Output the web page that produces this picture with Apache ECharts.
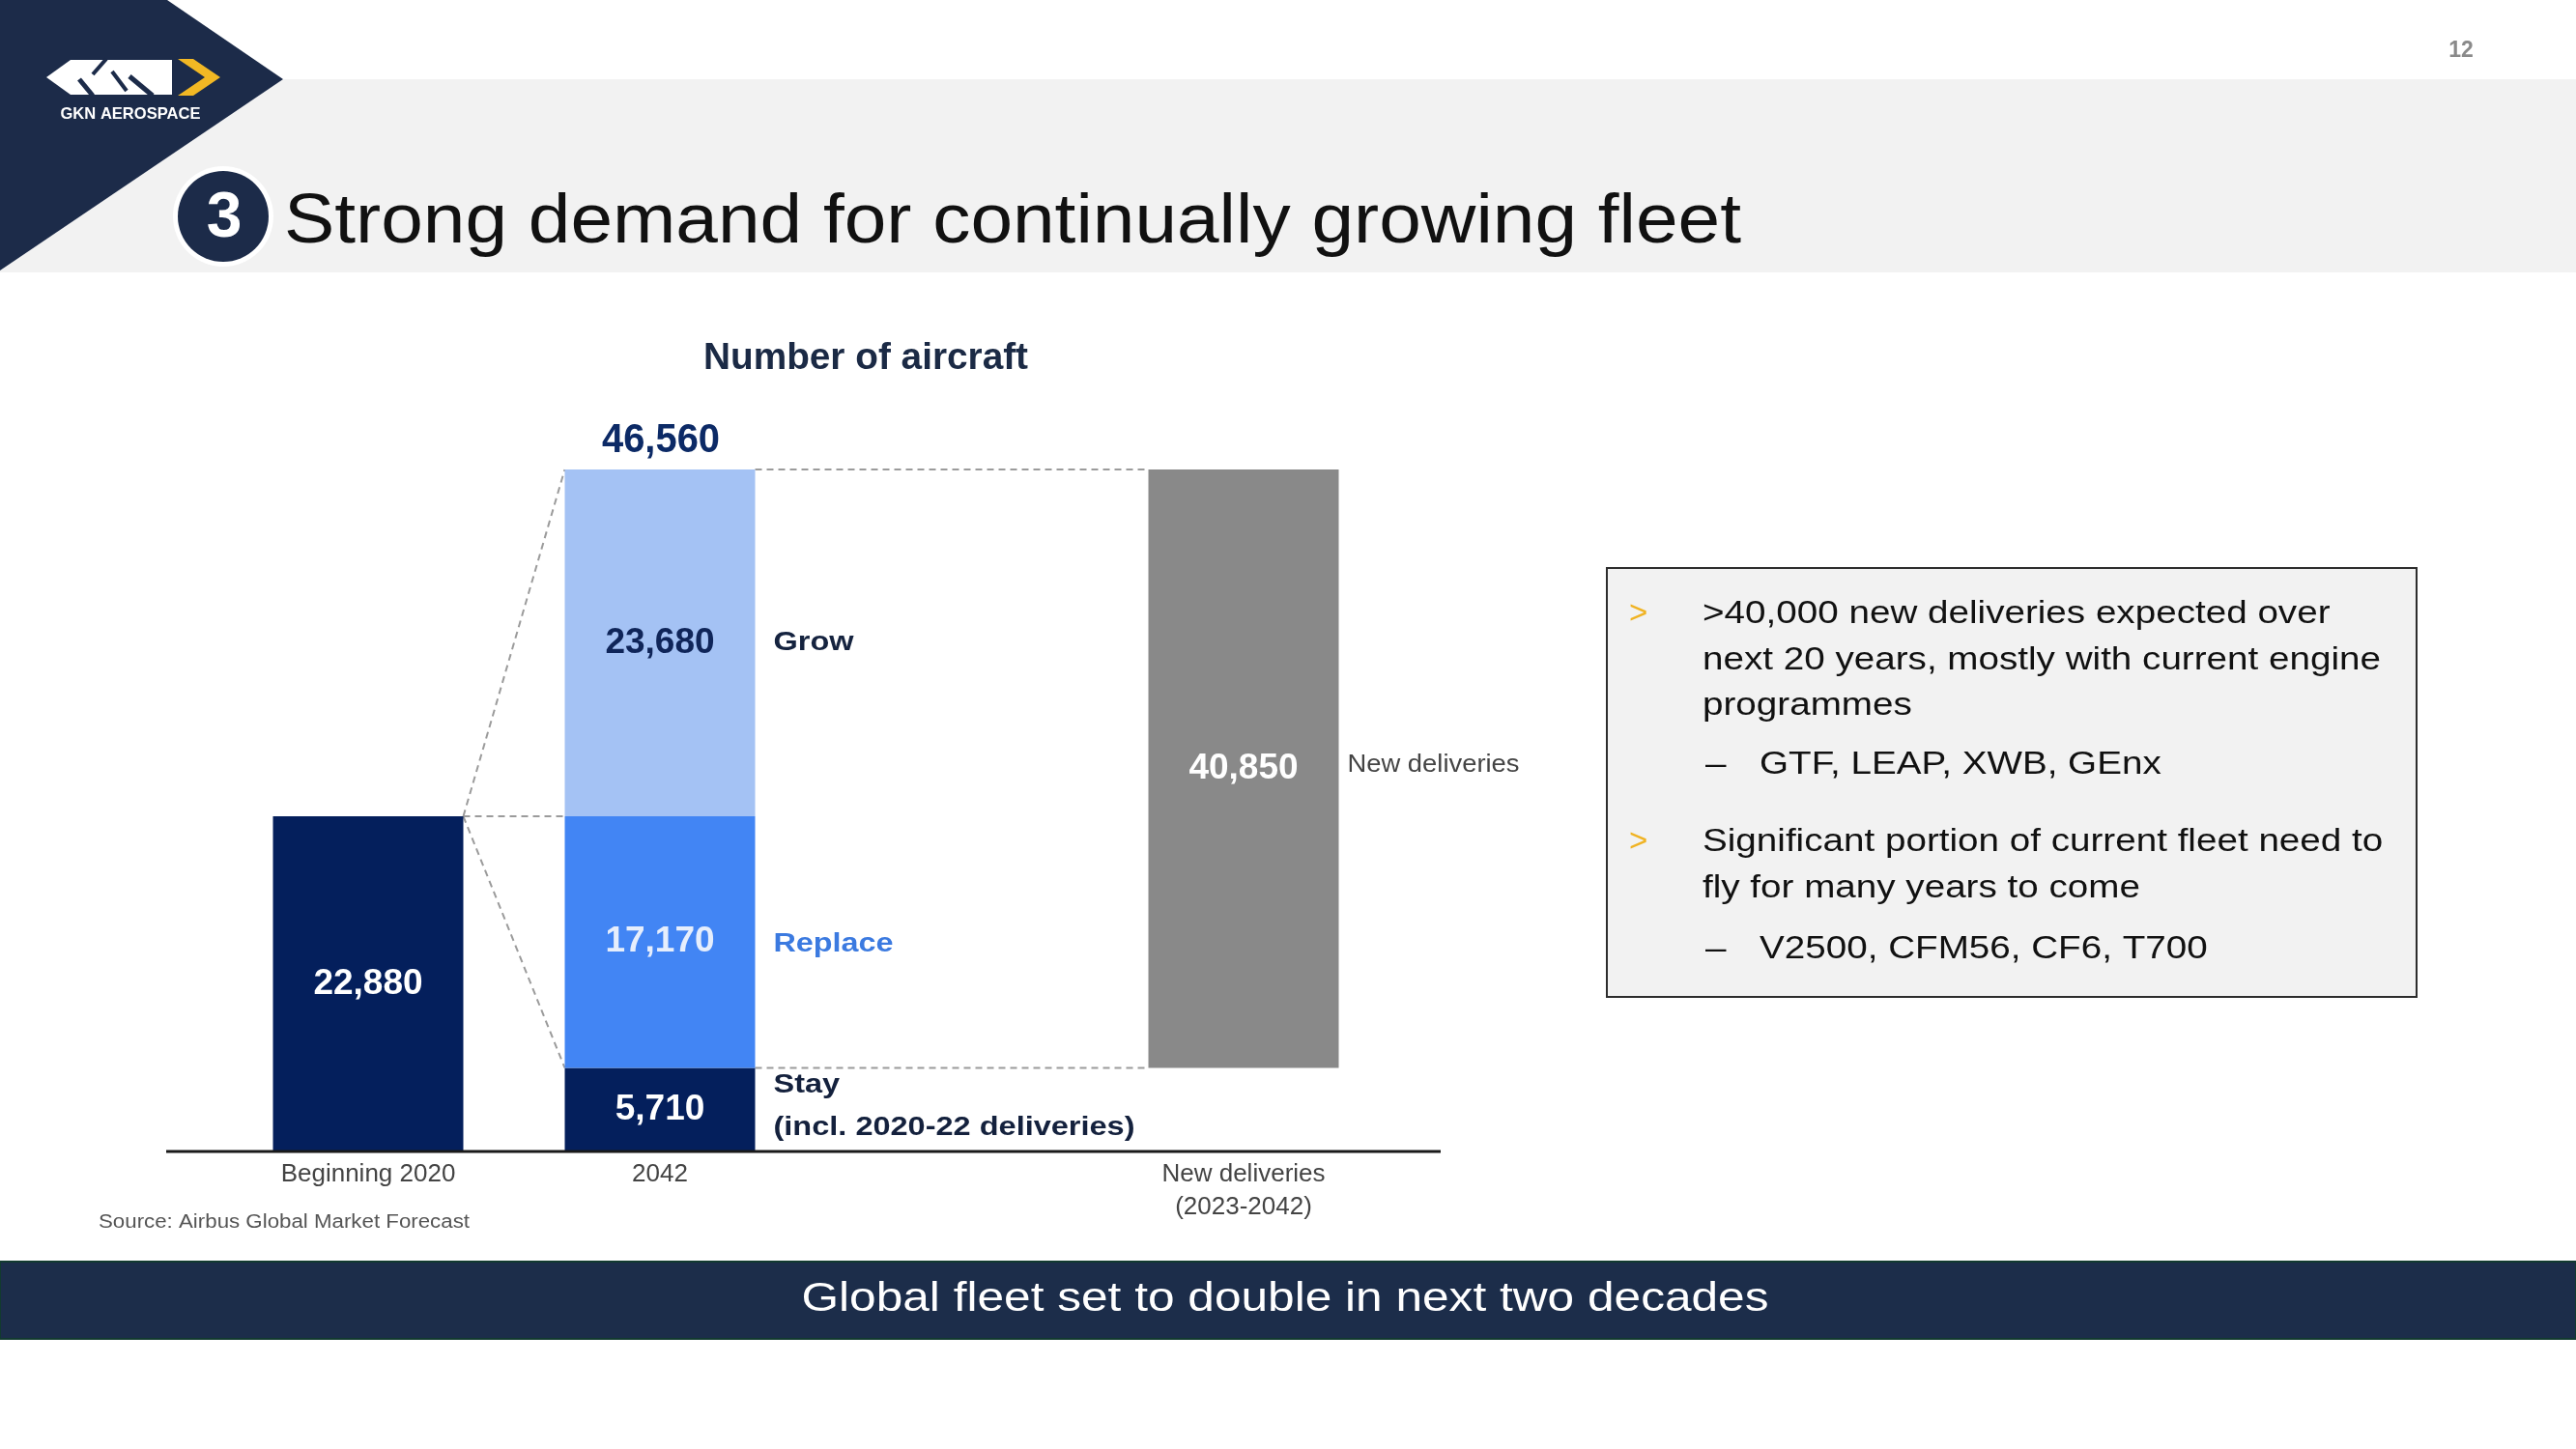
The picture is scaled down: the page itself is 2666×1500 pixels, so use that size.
<!DOCTYPE html>
<html>
<head>
<meta charset="utf-8">
<title>Strong demand for continually growing fleet</title>
<script src="https://cdn.jsdelivr.net/npm/echarts@6/dist/echarts.min.js"></script>
<style>
html, body { margin: 0; padding: 0; background: #fff; }
#main { width: 2666px; height: 1500px; }
</style>
</head>
<body>
<div id="main"></div>
<script>
// chart data
var categories = ['Beginning 2020', '2042', '', 'New deliveries\n(2023-2042)'];
var fleet2020 = [22880, '-', '-', '-'];
var stay = ['-', 5710, '-', '-'];
var replace = ['-', 17170, '-', '-'];
var grow = ['-', 23680, '-', '-'];
var newDeliveries = ['-', '-', '-', 40850];
var total2042 = stay[1] + replace[1] + grow[1];
var deliveriesBase = ['-', '-', '-', stay[1]];

var sideLabels = ['Grow', 'Replace', 'Stay\n(incl. 2020-22 deliveries)', 'New deliveries'];

var bulletPoints = [
  ['>40,000 new deliveries expected over', 'next 20 years, mostly with current engine', 'programmes'],
  ['Significant portion of current fleet need to', 'fly for many years to come']
];
var subPoints = ['GTF, LEAP, XWB, GEnx', 'V2500, CFM56, CF6, T700'];

var FONT = '"Liberation Sans", Arial, sans-serif';
var BAR_W = 197;
var NAVY = '#041f5c';

var ctx = document.createElement('canvas').getContext('2d');
function textWidth(text, font) {
  ctx.font = font;
  return Math.max.apply(null, text.split('\n').map(function (s) { return ctx.measureText(s).width; }));
}
function fit(text, font, target) {
  if (!target) return 1;
  return target / textWidth(text, font);
}
function fmt(v) { return Number(v).toLocaleString('en-US'); }

// free text for the slide
function txt(text, x, y, font, color, align, target, sx) {
  font = font + ' ' + FONT;
  return {
    type: 'text', x: x, y: y,
    scaleX: sx || fit(text, font, target),
    style: {
      text: text, font: font, fill: color,
      align: align, textAlign: align,
      verticalAlign: 'middle', textVerticalAlign: 'middle'
    }
  };
}

var connectors = [
  [0, fleet2020[0], 1, total2042],
  [0, fleet2020[0], 1, fleet2020[0]],
  [0, fleet2020[0], 1, stay[1]],
  [1, total2042, 3, total2042],
  [1, stay[1], 3, stay[1]]
];

var annotations = [
  { cat: 1, value: total2042, text: fmt(total2042), dx: 1, dy: -30, align: 'center',
    font: 'bold 42px ' + FONT, color: '#0c2a66', width: 122 },
  { cat: 1, value: stay[1] + replace[1] + grow[1] / 2, text: sideLabels[0], dx: BAR_W / 2 + 19, dy: 0, align: 'left',
    font: 'bold 27px ' + FONT, color: '#15233f', width: 83 },
  { cat: 1, value: stay[1] + replace[1] / 2, text: sideLabels[1], dx: BAR_W / 2 + 19, dy: 2, align: 'left',
    font: 'bold 27px ' + FONT, color: '#3b7ae0', width: 124 },
  { cat: 1, value: stay[1] / 2, text: sideLabels[2], dx: BAR_W / 2 + 19, dy: -3, align: 'left',
    font: 'bold 27px ' + FONT, color: '#14213d', width: 374, lineHeight: 44 },
  { cat: 3, value: deliveriesBase[3] + newDeliveries[3] / 2, text: sideLabels[3], dx: BAR_W / 2 + 9, dy: -4, align: 'left',
    font: '26px ' + FONT, color: '#444', width: 178 }
];

function barSeries(name, data, color, labelColor) {
  return {
    name: name, type: 'bar', stack: 'fleet', data: data, barWidth: BAR_W,
    itemStyle: { color: color },
    label: {
      show: !!labelColor, position: 'inside', color: labelColor,
      fontSize: 37, fontWeight: 'bold', fontFamily: FONT,
      formatter: function (p) { return fmt(p.value); }
    },
    z: 3
  };
}

// text box contents
var boxScaleFont = '33px ' + FONT;
var boxScale = fit(bulletPoints[0][1], boxScaleFont, 702);
var boxLines = [];
var lineY = [[636, 684, 731], [872, 920]];
var subY = [792, 983];
bulletPoints.forEach(function (lines, i) {
  boxLines.push(txt('>', 1686, lineY[i][0], '33px', '#f0b323', 'left', 0, 1));
  lines.forEach(function (line, j) {
    boxLines.push(txt(line, 1762, lineY[i][j], '33px', '#111', 'left', 0, boxScale));
  });
  boxLines.push(txt('\u2013', 1765, subY[i], '33px', '#111', 'left', 0, boxScale));
  boxLines.push(txt(subPoints[i], 1821, subY[i], '33px', '#111', 'left', 0, boxScale));
});

var chart = echarts.init(document.getElementById('main'));
chart.setOption({
  backgroundColor: '#fff',
  animation: false,
  grid: { left: 230, top: 486, width: 1208, height: 706, containLabel: false, outerBoundsMode: 'none' },
  xAxis: {
    type: 'category', data: categories,
    axisLine: { show: false }, axisTick: { show: false },
    axisLabel: { fontSize: 26, color: '#444', fontFamily: FONT, margin: 7, lineHeight: 34, interval: 0 }
  },
  yAxis: { type: 'value', min: 0, max: total2042, show: false, splitLine: { show: false } },
  series: [
    barSeries('Beginning 2020', fleet2020, NAVY, '#fff'),
    barSeries('Stay', stay, NAVY, '#fff'),
    {
      name: 'base', type: 'bar', stack: 'fleet', data: deliveriesBase, barWidth: BAR_W,
      itemStyle: { color: 'rgba(0,0,0,0)' }, silent: true
    },
    barSeries('Replace', replace, '#4285f4', '#e6eefc'),
    barSeries('Grow', grow, '#a4c2f4', '#0f2559'),
    barSeries('New deliveries', newDeliveries, '#898989', '#fff'),
    {
      type: 'custom', name: 'connectors', clip: false, z: 1, silent: true,
      data: connectors,
      renderItem: function (params, api) {
        var a = api.coord([api.value(0), api.value(1)]);
        var b = api.coord([api.value(2), api.value(3)]);
        return {
          type: 'line',
          shape: { x1: a[0] + BAR_W / 2, y1: a[1], x2: b[0] - BAR_W / 2, y2: b[1] },
          style: { stroke: '#9b9b9b', lineWidth: 2, lineDash: [7, 5] }
        };
      }
    },
    {
      type: 'custom', name: 'annotations', clip: false, z: 4, silent: true,
      data: annotations.map(function (a) { return [a.cat, a.value]; }),
      renderItem: function (params, api) {
        var a = annotations[params.dataIndex];
        var p = api.coord([api.value(0), api.value(1)]);
        return {
          type: 'text', x: p[0] + a.dx, y: p[1] + a.dy,
          scaleX: fit(a.text, a.font, a.width),
          style: {
            text: a.text, font: a.font, fill: a.color,
            align: a.align, textAlign: a.align,
            verticalAlign: 'middle', textVerticalAlign: 'middle',
            lineHeight: a.lineHeight
          }
        };
      }
    }
  ],
  graphic: [
    // header band and corner
    { type: 'rect', shape: { x: 0, y: 82, width: 2666, height: 200 }, style: { fill: '#f2f2f2' } },
    { type: 'polygon', shape: { points: [[0, 0], [173, 0], [293, 82], [0, 280]] }, style: { fill: '#1c2b49' } },
    // logo
    { type: 'polygon', shape: { points: [[48, 80], [73, 62], [178, 62], [178, 98], [73, 98]] }, style: { fill: '#fff' } },
    { type: 'polyline', shape: { points: [[82, 82], [96, 99]] }, style: { stroke: '#1c2b49', lineWidth: 5 } },
    { type: 'polyline', shape: { points: [[110, 61], [96, 77]] }, style: { stroke: '#1c2b49', lineWidth: 4 } },
    { type: 'polyline', shape: { points: [[116, 74], [131, 94]] }, style: { stroke: '#1c2b49', lineWidth: 4 } },
    { type: 'polyline', shape: { points: [[134, 79], [158, 99]] }, style: { stroke: '#1c2b49', lineWidth: 5 } },
    { type: 'polygon', shape: { points: [[184, 61], [200, 61], [228, 80], [200, 99], [184, 99], [212, 80]] }, style: { fill: '#f2b824' } },
    txt('GKN AEROSPACE', 135, 118, 'bold 17px', '#fff', 'center', 145),
    // section number
    { type: 'circle', shape: { cx: 231, cy: 224, r: 52 }, style: { fill: '#fff' } },
    { type: 'circle', shape: { cx: 231, cy: 224, r: 47 }, style: { fill: '#1c2b49' } },
    txt('3', 232, 227, 'bold 66px', '#fff', 'center', 0, 1),
    txt('Strong demand for continually growing fleet', 294, 231, '73px', '#111', 'left', 1508),
    txt('12', 2547, 53, 'bold 23px', '#8a8a8a', 'center', 0, 1),
    // chart title, source, baseline
    txt('Number of aircraft', 896, 371, 'bold 39px', '#1b2a45', 'center', 336),
    txt('Source: Airbus Global Market Forecast', 102, 1265, '20px', '#555', 'left', 384),
    { type: 'line', shape: { x1: 172, y1: 1192, x2: 1491, y2: 1192 }, style: { stroke: '#1a1a1a', lineWidth: 3 }, z: 10 },
    // text box
    { type: 'rect', shape: { x: 1663, y: 588, width: 838, height: 444 }, style: { fill: '#f2f2f2', stroke: '#2d2d2d', lineWidth: 2 } }
  ].concat(boxLines).concat([
    // bottom banner
    { type: 'rect', shape: { x: 0, y: 1306, width: 2666, height: 80 }, style: { fill: '#1c2d4a', stroke: '#123a30', lineWidth: 2 } },
    txt('Global fleet set to double in next two decades', 1330, 1345, '42px', '#fff', 'center', 1001)
  ])
});
</script>
</body>
</html>
